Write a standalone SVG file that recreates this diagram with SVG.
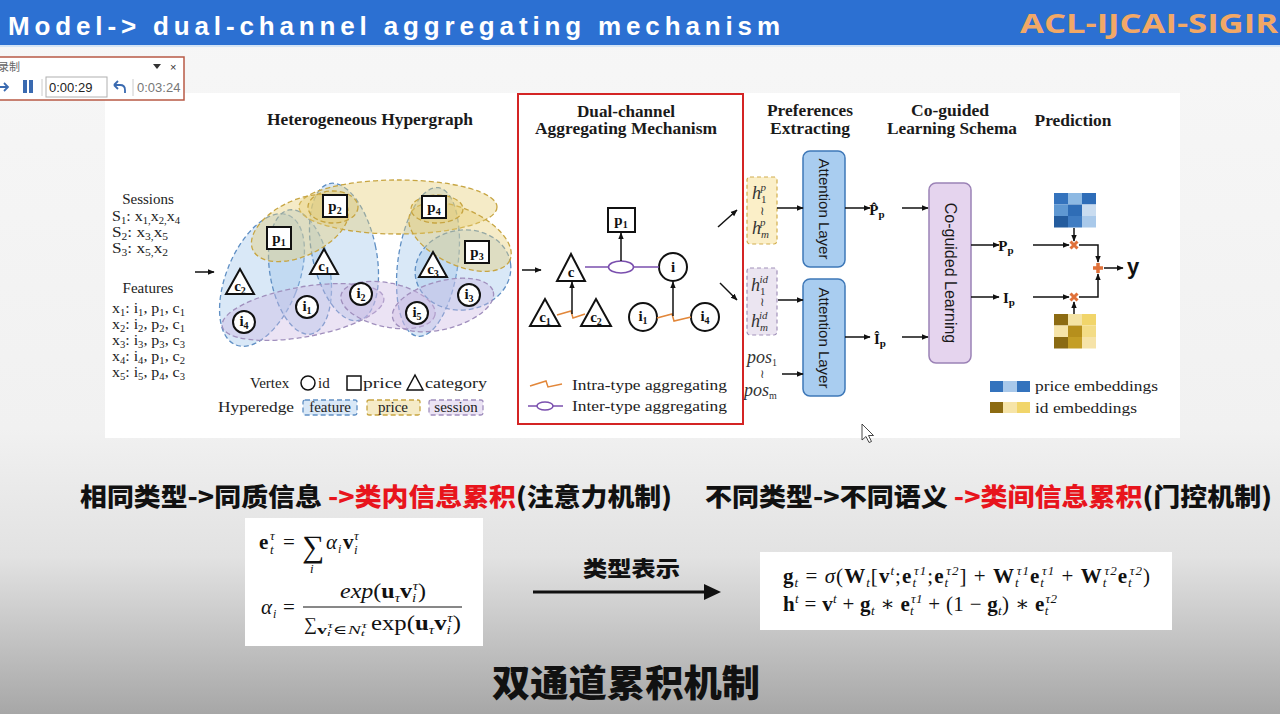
<svg xmlns="http://www.w3.org/2000/svg" width="1280" height="714" viewBox="0 0 1280 714">
<defs>
<linearGradient id="bg" x1="0" y1="0" x2="0" y2="714" gradientUnits="userSpaceOnUse">
<stop offset="0" stop-color="#f7f7f7"/>
<stop offset="0.6" stop-color="#f1f1f1"/>
<stop offset="0.78" stop-color="#e2e2e2"/>
<stop offset="1" stop-color="#a7a7a7"/>
</linearGradient>
<marker id="ah" viewBox="0 0 10 10" refX="9" refY="5" markerWidth="7" markerHeight="7" orient="auto" markerUnits="userSpaceOnUse"><path d="M0,1 L10,5 L0,9 z" fill="#111"/></marker>
<style>
.sf{font-family:"Liberation Serif","DejaVu Serif",serif}
.ss{font-family:"Liberation Sans","DejaVu Sans",sans-serif}
.cjk{font-family:"Noto Sans CJK SC",sans-serif;font-weight:900}
.ttl{font-family:"Liberation Serif",serif;font-weight:bold;font-size:16px;fill:#1a1a1a;text-anchor:middle}
.hb{fill:rgba(160,198,236,0.4);stroke:#5f8fc4;stroke-width:1.3;stroke-dasharray:5 3}
.hy{fill:rgba(230,205,115,0.4);stroke:#c7a542;stroke-width:1.3;stroke-dasharray:5 3}
.hp{fill:rgba(205,185,228,0.4);stroke:#a08fbd;stroke-width:1.3;stroke-dasharray:5 3}
.nd{fill:#fff;stroke:#111;stroke-width:2}
.lb{font-family:"Liberation Serif",serif;font-weight:bold;font-size:15px;fill:#111;text-anchor:middle}
.sb{font-size:10px}
.tx{font-family:"Liberation Serif",serif;font-size:15px;fill:#222}
.ar{stroke:#111;stroke-width:1.5;fill:none;marker-end:url(#ah)}
.hl{font-family:"Liberation Serif",serif;font-style:italic;font-size:18px;fill:#333}
.wr{font-family:"DejaVu Serif",serif;font-size:12px;fill:#333;text-anchor:middle}
</style>
</defs>

<!-- background -->
<rect x="0" y="0" width="1280" height="714" fill="url(#bg)"/>
<rect x="105" y="93" width="1075" height="345" fill="#ffffff"/>

<!-- header -->
<g id="header">
<rect x="0" y="0" width="1280" height="45" fill="#2c70d2"/>
<rect x="0" y="45" width="1280" height="2" fill="#d5e5f5"/>
<text x="8" y="35" class="ss" font-size="26" font-weight="bold" fill="#ffffff" textLength="772" lengthAdjust="spacing">Model-&gt; dual-channel aggregating mechanism</text>
<text x="1020" y="33" font-family="Open Sans, Liberation Sans, sans-serif" font-size="26" font-weight="bold" fill="#f2a866" textLength="258" lengthAdjust="spacingAndGlyphs">ACL-IJCAI-SIGIR</text>
</g>

<!-- Heterogeneous hypergraph -->
<g id="hypergraph">
<text class="ttl" x="370" y="125" textLength="206" lengthAdjust="spacingAndGlyphs">Heterogeneous Hypergraph</text>
<text class="tx" x="148" y="204" font-size="17" text-anchor="middle">Sessions</text>
<text class="tx" x="112" y="221" textLength="68" lengthAdjust="spacingAndGlyphs">S<tspan class="sb" dy="3">1</tspan><tspan dy="-3">: x</tspan><tspan class="sb" dy="3">1,</tspan><tspan dy="-3">x</tspan><tspan class="sb" dy="3">2,</tspan><tspan dy="-3">x</tspan><tspan class="sb" dy="3">4</tspan></text>
<text class="tx" x="112" y="237" textLength="56" lengthAdjust="spacingAndGlyphs">S<tspan class="sb" dy="3">2</tspan><tspan dy="-3">: x</tspan><tspan class="sb" dy="3">3,</tspan><tspan dy="-3">x</tspan><tspan class="sb" dy="3">5</tspan></text>
<text class="tx" x="112" y="253" textLength="56" lengthAdjust="spacingAndGlyphs">S<tspan class="sb" dy="3">3</tspan><tspan dy="-3">: x</tspan><tspan class="sb" dy="3">5,</tspan><tspan dy="-3">x</tspan><tspan class="sb" dy="3">2</tspan></text>
<text class="tx" x="148" y="293" font-size="17" text-anchor="middle">Features</text>
<text class="tx" x="112" y="313" textLength="73" lengthAdjust="spacingAndGlyphs">x<tspan class="sb" dy="3">1</tspan><tspan dy="-3">: i</tspan><tspan class="sb" dy="3">1</tspan><tspan dy="-3">, p</tspan><tspan class="sb" dy="3">1</tspan><tspan dy="-3">, c</tspan><tspan class="sb" dy="3">1</tspan></text>
<text class="tx" x="112" y="329" textLength="73" lengthAdjust="spacingAndGlyphs">x<tspan class="sb" dy="3">2</tspan><tspan dy="-3">: i</tspan><tspan class="sb" dy="3">2</tspan><tspan dy="-3">, p</tspan><tspan class="sb" dy="3">2</tspan><tspan dy="-3">, c</tspan><tspan class="sb" dy="3">1</tspan></text>
<text class="tx" x="112" y="345" textLength="73" lengthAdjust="spacingAndGlyphs">x<tspan class="sb" dy="3">3</tspan><tspan dy="-3">: i</tspan><tspan class="sb" dy="3">3</tspan><tspan dy="-3">, p</tspan><tspan class="sb" dy="3">3</tspan><tspan dy="-3">, c</tspan><tspan class="sb" dy="3">3</tspan></text>
<text class="tx" x="112" y="361" textLength="73" lengthAdjust="spacingAndGlyphs">x<tspan class="sb" dy="3">4</tspan><tspan dy="-3">: i</tspan><tspan class="sb" dy="3">4</tspan><tspan dy="-3">, p</tspan><tspan class="sb" dy="3">1</tspan><tspan dy="-3">, c</tspan><tspan class="sb" dy="3">2</tspan></text>
<text class="tx" x="112" y="377" textLength="73" lengthAdjust="spacingAndGlyphs">x<tspan class="sb" dy="3">5</tspan><tspan dy="-3">: i</tspan><tspan class="sb" dy="3">5</tspan><tspan dy="-3">, p</tspan><tspan class="sb" dy="3">4</tspan><tspan dy="-3">, c</tspan><tspan class="sb" dy="3">3</tspan></text>

<!-- hyperedges -->
<ellipse class="hb" cx="262" cy="280" rx="36" ry="70" transform="rotate(22 262 280)"/>
<ellipse class="hb" cx="300" cy="272" rx="30" ry="63" transform="rotate(-10 300 272)"/>
<ellipse class="hb" cx="344" cy="252" rx="32" ry="70" transform="rotate(-12 344 252)"/>
<ellipse class="hb" cx="428" cy="262" rx="30" ry="75" transform="rotate(8 428 262)"/>
<ellipse class="hb" cx="463" cy="270" rx="48" ry="40" transform="rotate(-8 463 270)"/>
<ellipse class="hy" cx="398" cy="207" rx="99" ry="27"/>
<ellipse class="hy" cx="300" cy="228" rx="52" ry="28" transform="rotate(-25 300 228)"/>
<ellipse class="hy" cx="460" cy="237" rx="55" ry="28" transform="rotate(25 460 237)"/>
<ellipse class="hy" cx="333" cy="207" rx="25" ry="16"/>
<ellipse class="hy" cx="437" cy="209" rx="26" ry="14"/>
<ellipse class="hp" cx="303" cy="312" rx="82" ry="25" transform="rotate(-10 303 312)"/>
<ellipse class="hp" cx="388" cy="305" rx="48" ry="22" transform="rotate(12 388 305)"/>
<ellipse class="hp" cx="443" cy="305" rx="52" ry="24" transform="rotate(-15 443 305)"/>

<!-- vertices -->
<rect class="nd" x="323" y="195" width="24" height="22"/><text class="lb" x="335" y="211">p<tspan class="sb" dy="3">2</tspan></text>
<rect class="nd" x="422" y="196" width="24" height="22"/><text class="lb" x="434" y="212">p<tspan class="sb" dy="3">4</tspan></text>
<rect class="nd" x="267" y="227" width="24" height="22"/><text class="lb" x="279" y="243">p<tspan class="sb" dy="3">1</tspan></text>
<rect class="nd" x="465" y="241" width="24" height="22"/><text class="lb" x="477" y="257">p<tspan class="sb" dy="3">3</tspan></text>
<polygon class="nd" points="324,249 310,274 338,274"/><text class="lb" x="324" y="271">c<tspan class="sb" dy="3">1</tspan></text>
<polygon class="nd" points="433,252 419,277 447,277"/><text class="lb" x="433" y="274">c<tspan class="sb" dy="3">3</tspan></text>
<polygon class="nd" points="240,269 226,294 254,294"/><text class="lb" x="240" y="291">c<tspan class="sb" dy="3">2</tspan></text>
<circle class="nd" cx="361" cy="294" r="11"/><text class="lb" x="361" y="298">i<tspan class="sb" dy="3">2</tspan></text>
<circle class="nd" cx="307" cy="307" r="11"/><text class="lb" x="307" y="311">i<tspan class="sb" dy="3">1</tspan></text>
<circle class="nd" cx="469" cy="295" r="11"/><text class="lb" x="469" y="299">i<tspan class="sb" dy="3">3</tspan></text>
<circle class="nd" cx="417" cy="313" r="11"/><text class="lb" x="417" y="317">i<tspan class="sb" dy="3">5</tspan></text>
<circle class="nd" cx="244" cy="322" r="11"/><text class="lb" x="244" y="326">i<tspan class="sb" dy="3">4</tspan></text>

<!-- legend -->
<text class="tx" x="250" y="388" font-size="16">Vertex</text>
<circle cx="308" cy="383" r="7" fill="none" stroke="#111" stroke-width="1.5"/>
<text class="tx" x="318" y="388" font-size="16">id</text>
<rect x="347" y="376" width="14" height="14" fill="none" stroke="#111" stroke-width="1.5"/>
<text class="tx" x="363" y="388" font-size="16" textLength="39" lengthAdjust="spacingAndGlyphs">price</text>
<polygon points="415,375 407,390 423,390" fill="none" stroke="#111" stroke-width="1.5"/>
<text class="tx" x="425" y="388" font-size="16" textLength="62" lengthAdjust="spacingAndGlyphs">category</text>
<text class="tx" x="218" y="412" font-size="16" textLength="76" lengthAdjust="spacingAndGlyphs">Hyperedge</text>
<rect class="hb" x="303" y="400" width="54" height="15" rx="2" stroke-width="1"/>
<text class="tx" x="330" y="412" font-size="14" text-anchor="middle">feature</text>
<rect class="hy" x="367" y="400" width="53" height="15" rx="2" stroke-width="1"/>
<text class="tx" x="393" y="412" font-size="14" text-anchor="middle">price</text>
<rect class="hp" x="429" y="400" width="54" height="15" rx="2" stroke-width="1"/>
<text class="tx" x="456" y="412" font-size="14" text-anchor="middle">session</text>
</g>

<!-- Dual-channel aggregating mechanism -->
<g id="dual-channel">
<rect x="518" y="94" width="225" height="330" fill="none" stroke="#d42424" stroke-width="2"/>
<text class="ttl" x="626" y="117" textLength="98" lengthAdjust="spacingAndGlyphs">Dual-channel</text>
<text class="ttl" x="626" y="134" textLength="182" lengthAdjust="spacingAndGlyphs">Aggregating Mechanism</text>
<rect class="nd" x="608" y="208" width="27" height="24"/><text class="lb" x="621" y="225">p<tspan class="sb" dy="3">1</tspan></text>
<polygon class="nd" points="571,254 557,281 585,281"/><text class="lb" x="571" y="277">c</text>
<circle class="nd" cx="673" cy="267" r="14"/><text class="lb" x="673" y="272">i</text>
<polygon class="nd" points="545,299 530,326 560,326"/><text class="lb" x="545" y="322">c<tspan class="sb" dy="3">1</tspan></text>
<polygon class="nd" points="596,299 581,326 611,326"/><text class="lb" x="596" y="322">c<tspan class="sb" dy="3">2</tspan></text>
<circle class="nd" cx="643" cy="317" r="14"/><text class="lb" x="643" y="321">i<tspan class="sb" dy="3">1</tspan></text>
<circle class="nd" cx="705" cy="317" r="14"/><text class="lb" x="705" y="321">i<tspan class="sb" dy="3">4</tspan></text>
<text class="tx" x="572" y="390" font-size="16" textLength="155" lengthAdjust="spacingAndGlyphs">Intra-type aggregating</text>
<text class="tx" x="572" y="411" font-size="16" textLength="155" lengthAdjust="spacingAndGlyphs">Inter-type aggregating</text>
</g>

<!-- Preferences extracting -->
<g id="pref-inputs">
<text class="ttl" x="810" y="116" textLength="86" lengthAdjust="spacingAndGlyphs">Preferences</text>
<text class="ttl" x="810" y="134" textLength="80" lengthAdjust="spacingAndGlyphs">Extracting</text>
<rect x="747" y="177" width="30" height="67" rx="3" fill="#fbefc8" stroke="#d2ae4e" stroke-width="1.2" stroke-dasharray="4 3"/>
<text class="hl" x="752" y="199">h<tspan font-size="11" font-style="normal" dy="4">1</tspan><tspan font-size="11" dx="-6" dy="-12">p</tspan></text>
<text class="wr" x="762" y="215">≀</text>
<text class="hl" x="752" y="234">h<tspan font-size="11" dy="4">m</tspan><tspan font-size="11" dx="-9" dy="-12">p</tspan></text>
<rect x="747" y="268" width="30" height="67" rx="3" fill="#ebe5f1" stroke="#a292ba" stroke-width="1.2" stroke-dasharray="4 3"/>
<text class="hl" x="751" y="291">h<tspan font-size="11" font-style="normal" dy="4">1</tspan><tspan font-size="11" dx="-6" dy="-12">id</tspan></text>
<text class="wr" x="762" y="306">≀</text>
<text class="hl" x="751" y="327">h<tspan font-size="11" dy="4">m</tspan><tspan font-size="11" dx="-9" dy="-12">id</tspan></text>
<text class="hl" x="747" y="363" font-size="16">pos<tspan font-size="10" font-style="normal" dy="3">1</tspan></text>
<text class="wr" x="762" y="378">≀</text>
<text class="hl" x="744" y="396" font-size="16">pos<tspan font-size="10" font-style="normal" dy="3">m</tspan></text>
</g>
<g id="attention-1">
<rect x="803" y="151" width="42" height="116" rx="7" fill="#a9cdf0" stroke="#3e78b8" stroke-width="1.5"/>
<text class="ss" x="824" y="209" font-size="15" fill="#1a1a1a" text-anchor="middle" dominant-baseline="central" transform="rotate(90 824 209)">Attention Layer</text>
</g>
<g id="attention-2">
<rect x="803" y="279" width="42" height="117" rx="7" fill="#a9cdf0" stroke="#3e78b8" stroke-width="1.5"/>
<text class="ss" x="824" y="338" font-size="15" fill="#1a1a1a" text-anchor="middle" dominant-baseline="central" transform="rotate(90 824 338)">Attention Layer</text>
</g>
<g id="pref-outputs">
<text class="lb" x="877" y="215" text-anchor="start" font-size="17">P&#x302;<tspan font-size="11" dy="3">p</tspan></text>
<text class="lb" x="880" y="344" text-anchor="start" font-size="17">I&#x302;<tspan font-size="11" dy="3">p</tspan></text>
</g>

<!-- Co-guided learning -->
<g id="co-guided">
<text class="ttl" x="950" y="116" textLength="78" lengthAdjust="spacingAndGlyphs">Co-guided</text>
<text class="ttl" x="952" y="134" textLength="130" lengthAdjust="spacingAndGlyphs">Learning Schema</text>
<rect x="929" y="183" width="42" height="180" rx="7" fill="#e5d4ee" stroke="#9b82b6" stroke-width="1.5"/>
<text class="ss" x="950" y="273" font-size="16" fill="#1a1a1a" text-anchor="middle" dominant-baseline="central" transform="rotate(90 950 273)">Co-guided Learning</text>
<text class="lb" x="1006" y="251" text-anchor="start" font-size="17">P<tspan font-size="11" dy="3">p</tspan></text>
<text class="lb" x="1009" y="303" text-anchor="start" font-size="17">I<tspan font-size="11" dy="3">p</tspan></text>
</g>

<!-- Prediction -->
<g id="prediction">
<text class="ttl" x="1073" y="126" textLength="77" lengthAdjust="spacingAndGlyphs">Prediction</text>
<rect x="1054" y="193" width="14" height="11.5" fill="#3473bd"/><rect x="1068" y="193" width="14" height="11.5" fill="#8db9e3"/><rect x="1082" y="193" width="14" height="11.5" fill="#2e6db8"/>
<rect x="1054" y="204.5" width="14" height="11.5" fill="#5f98d2"/><rect x="1068" y="204.5" width="14" height="11.5" fill="#2f6db6"/><rect x="1082" y="204.5" width="14" height="11.5" fill="#c9dcf0"/>
<rect x="1054" y="216" width="14" height="11.5" fill="#245c9e"/><rect x="1068" y="216" width="14" height="11.5" fill="#3f7cc2"/><rect x="1082" y="216" width="14" height="11.5" fill="#a9c9ea"/>
<rect x="1054" y="314" width="14" height="11.5" fill="#8c6b12"/><rect x="1068" y="314" width="14" height="11.5" fill="#f4e3a4"/><rect x="1082" y="314" width="14" height="11.5" fill="#f1d56a"/>
<rect x="1054" y="325.5" width="14" height="11.5" fill="#f6e4a8"/><rect x="1068" y="325.5" width="14" height="11.5" fill="#b68f1c"/><rect x="1082" y="325.5" width="14" height="11.5" fill="#f3dc86"/>
<rect x="1054" y="337" width="14" height="11.5" fill="#8a6a12"/><rect x="1068" y="337" width="14" height="11.5" fill="#c49e26"/><rect x="1082" y="337" width="14" height="11.5" fill="#f6e3a8"/>
<path d="M1070.5,241.5 L1077.5,248.5 M1077.5,241.5 L1070.5,248.5" stroke="#e0713a" stroke-width="3"/>
<path d="M1070.5,293.5 L1077.5,300.5 M1077.5,293.5 L1070.5,300.5" stroke="#e0713a" stroke-width="3"/>
<path d="M1093,268 H1103 M1098,263 V273" stroke="#e0713a" stroke-width="3.5"/>
<text class="ss" x="1127" y="274" font-size="22" font-weight="bold" fill="#111">y</text>
<rect x="990" y="381" width="13" height="11" fill="#3473bd"/><rect x="1003" y="381" width="14" height="11" fill="#a8c8ea"/><rect x="1017" y="381" width="13" height="11" fill="#3473bd"/>
<text class="tx" x="1035" y="391" font-size="16" textLength="123" lengthAdjust="spacingAndGlyphs">price embeddings</text>
<rect x="990" y="402" width="13" height="11" fill="#8c6b12"/><rect x="1003" y="402" width="14" height="11" fill="#f6e4a8"/><rect x="1017" y="402" width="13" height="11" fill="#f1d56a"/>
<text class="tx" x="1035" y="413" font-size="16" textLength="102" lengthAdjust="spacingAndGlyphs">id embeddings</text>
</g>

<!-- connectors -->
<g id="connectors">
<line class="ar" x1="195" y1="272" x2="214" y2="272"/>
<line x1="585" y1="267" x2="659" y2="267" stroke="#7a4fae" stroke-width="1.5"/>
<ellipse cx="621" cy="267" rx="12.5" ry="6" fill="#fff" stroke="#7a4fae" stroke-width="1.5"/>
<line class="ar" x1="621" y1="261" x2="621" y2="233"/>
<line class="ar" x1="522" y1="270" x2="541" y2="270"/>
<path d="M557,315 L571,311 L573,318 L585,314" fill="none" stroke="#e2873a" stroke-width="1.5"/>
<line class="ar" x1="572" y1="314" x2="572" y2="282"/>
<path d="M657,318 L672,314 L674,321 L691,317" fill="none" stroke="#e2873a" stroke-width="1.5"/>
<line class="ar" x1="673" y1="316" x2="673" y2="282"/>
<path d="M530,386 L546,381 L548,387 L562,384" fill="none" stroke="#e2873a" stroke-width="1.5"/>
<line x1="528" y1="406" x2="563" y2="406" stroke="#7a4fae" stroke-width="1.5"/>
<ellipse cx="545" cy="406" rx="8" ry="4" fill="#fff" stroke="#7a4fae" stroke-width="1.5"/>
<line class="ar" x1="718" y1="227" x2="737" y2="210"/>
<line class="ar" x1="720" y1="283" x2="737" y2="300"/>
<line class="ar" x1="777" y1="208" x2="803" y2="208"/>
<line class="ar" x1="778" y1="300" x2="803" y2="300"/>
<line class="ar" x1="782" y1="374" x2="803" y2="374"/>
<line class="ar" x1="845" y1="208" x2="870" y2="208"/>
<line class="ar" x1="845" y1="337" x2="870" y2="337"/>
<line class="ar" x1="902" y1="208" x2="928" y2="208"/>
<line class="ar" x1="902" y1="337" x2="928" y2="337"/>
<line class="ar" x1="971" y1="245" x2="999" y2="245"/>
<line class="ar" x1="971" y1="297" x2="999" y2="297"/>
<line class="ar" x1="1033" y1="245" x2="1069" y2="245"/>
<line class="ar" x1="1033" y1="297" x2="1069" y2="297"/>
<line class="ar" x1="1074" y1="228" x2="1074" y2="241"/>
<line class="ar" x1="1074" y1="314" x2="1074" y2="302"/>
<path class="ar" d="M1079,245 H1098 V262"/>
<path class="ar" d="M1079,297 H1098 V274"/>
<line class="ar" x1="1104" y1="268" x2="1123" y2="268"/>
</g>

<!-- cursor -->
<path d="M862,424 L862,440 L866,436.5 L869,442.5 L871.5,441.5 L868.5,435.5 L873.5,435.5 Z" fill="#fff" stroke="#333" stroke-width="0.9"/>

<!-- Chinese explanation lines -->
<g id="notes">
<text class="cjk" x="80" y="506" font-size="25" textLength="592" lengthAdjust="spacingAndGlyphs"><tspan fill="#111">相同类型-&gt;同质信息 </tspan><tspan fill="#e8141c">-&gt;类内信息累积</tspan><tspan fill="#111">(注意力机制)</tspan></text>
<text class="cjk" x="705" y="506" font-size="25" textLength="567" lengthAdjust="spacingAndGlyphs"><tspan fill="#111">不同类型-&gt;不同语义 </tspan><tspan fill="#e8141c">-&gt;类间信息累积</tspan><tspan fill="#111">(门控机制)</tspan></text>
</g>

<!-- left formula -->
<g id="formula-left">
<rect x="245" y="518" width="238" height="128" fill="#ffffff"/>
<text class="sf" x="259" y="549" font-size="21" font-weight="bold" fill="#111">e</text>
<text class="sf" x="270" y="540" font-size="13" font-style="italic" fill="#111">τ</text>
<text class="sf" x="270" y="554" font-size="13" font-style="italic" fill="#111">t</text>
<text class="sf" x="283" y="549" font-size="21" fill="#111">=</text>
<text class="sf" x="302" y="557" font-size="31" fill="#111">∑</text>
<text class="sf" x="310" y="573" font-size="13" font-style="italic" fill="#111">i</text>
<text class="sf" x="326" y="549" font-size="21" font-style="italic" fill="#111">α</text>
<text class="sf" x="338" y="553" font-size="12" font-style="italic" fill="#111">i</text>
<text class="sf" x="343" y="549" font-size="21" font-weight="bold" fill="#111">v</text>
<text class="sf" x="354" y="540" font-size="13" font-style="italic" fill="#111">τ</text>
<text class="sf" x="354" y="554" font-size="13" font-style="italic" fill="#111">i</text>
<text class="sf" x="261" y="614" font-size="21" font-style="italic" fill="#111">α</text>
<text class="sf" x="273" y="618" font-size="12" font-style="italic" fill="#111">i</text>
<text class="sf" x="283" y="614" font-size="21" fill="#111">=</text>
<line x1="303" y1="607" x2="462" y2="607" stroke="#111" stroke-width="1"/>
<text class="sf" x="340" y="598" font-size="21" fill="#111" textLength="86" lengthAdjust="spacingAndGlyphs"><tspan font-style="italic">exp</tspan>(<tspan font-weight="bold">u</tspan><tspan font-size="13" font-style="italic" dy="4">τ</tspan><tspan font-weight="bold" dy="-4">v</tspan><tspan font-size="13" font-style="italic" dy="4">i</tspan><tspan font-size="13" font-style="italic" dx="-3" dy="-12">τ</tspan><tspan dy="8">)</tspan></text>
<text class="sf" x="304" y="630" font-size="18" fill="#111">∑</text>
<text class="sf" x="317" y="634" font-size="12" fill="#111" textLength="50" lengthAdjust="spacingAndGlyphs"><tspan font-weight="bold">v</tspan><tspan font-size="9" font-style="italic" dy="2">i</tspan><tspan font-size="9" font-style="italic" dx="-2" dy="-8">τ</tspan><tspan dy="6">∈</tspan><tspan font-style="italic">N</tspan><tspan font-size="9" font-style="italic" dy="2">t</tspan><tspan font-size="9" font-style="italic" dx="-2" dy="-8">τ</tspan></text>
<text class="sf" x="371" y="630" font-size="21" fill="#111" textLength="90" lengthAdjust="spacingAndGlyphs">exp(<tspan font-weight="bold">u</tspan><tspan font-size="13" font-style="italic" dy="4">τ</tspan><tspan font-weight="bold" dy="-4">v</tspan><tspan font-size="13" font-style="italic" dy="4">i</tspan><tspan font-size="13" font-style="italic" dx="-3" dy="-12">τ</tspan><tspan dy="8">)</tspan></text>
</g>

<!-- type representation arrow -->
<g id="type-arrow">
<text class="cjk" x="583" y="576" font-size="21" fill="#111" textLength="97" lengthAdjust="spacingAndGlyphs" font-weight="700">类型表示</text>
<line x1="533" y1="592" x2="708" y2="592" stroke="#111" stroke-width="3"/>
<polygon points="704,584 721,592 704,600" fill="#111"/>
</g>

<!-- right formula -->
<g id="formula-right">
<rect x="760" y="552" width="412" height="78" fill="#ffffff"/>
<text class="sf" x="783" y="583" font-size="21" fill="#111" textLength="367" lengthAdjust="spacing"><tspan font-weight="bold">g</tspan><tspan font-size="13" font-style="italic" dy="4">t</tspan><tspan dy="-4"> = </tspan><tspan font-style="italic">σ</tspan>(<tspan font-weight="bold">W</tspan><tspan font-size="13" font-style="italic" dy="4">t</tspan><tspan dy="-4">[</tspan><tspan font-weight="bold">v</tspan><tspan font-size="13" font-style="italic" dy="-8">t</tspan><tspan dy="8">;</tspan><tspan font-weight="bold">e</tspan><tspan font-size="13" font-style="italic" dy="4">t</tspan><tspan font-size="13" font-style="italic" dx="-3" dy="-12">τ1</tspan><tspan dy="8">;</tspan><tspan font-weight="bold">e</tspan><tspan font-size="13" font-style="italic" dy="4">t</tspan><tspan font-size="13" font-style="italic" dx="-3" dy="-12">τ2</tspan><tspan dy="8">] + </tspan><tspan font-weight="bold">W</tspan><tspan font-size="13" font-style="italic" dy="4">t</tspan><tspan font-size="13" font-style="italic" dx="-3" dy="-12">τ1</tspan><tspan font-weight="bold" dy="8">e</tspan><tspan font-size="13" font-style="italic" dy="4">t</tspan><tspan font-size="13" font-style="italic" dx="-3" dy="-12">τ1</tspan><tspan dy="8"> + </tspan><tspan font-weight="bold">W</tspan><tspan font-size="13" font-style="italic" dy="4">t</tspan><tspan font-size="13" font-style="italic" dx="-3" dy="-12">τ2</tspan><tspan font-weight="bold" dy="8">e</tspan><tspan font-size="13" font-style="italic" dy="4">t</tspan><tspan font-size="13" font-style="italic" dx="-3" dy="-12">τ2</tspan><tspan dy="8">)</tspan></text>
<text class="sf" x="783" y="611" font-size="21" fill="#111" textLength="274" lengthAdjust="spacing"><tspan font-weight="bold">h</tspan><tspan font-size="13" font-style="italic" dy="-8">t</tspan><tspan dy="8"> = </tspan><tspan font-weight="bold">v</tspan><tspan font-size="13" font-style="italic" dy="-8">t</tspan><tspan dy="8"> + </tspan><tspan font-weight="bold">g</tspan><tspan font-size="13" font-style="italic" dy="4">t</tspan><tspan dy="-4"> ∗ </tspan><tspan font-weight="bold">e</tspan><tspan font-size="13" font-style="italic" dy="4">t</tspan><tspan font-size="13" font-style="italic" dx="-3" dy="-12">τ1</tspan><tspan dy="8"> + (1 − </tspan><tspan font-weight="bold">g</tspan><tspan font-size="13" font-style="italic" dy="4">t</tspan><tspan dy="-4">) ∗ </tspan><tspan font-weight="bold">e</tspan><tspan font-size="13" font-style="italic" dy="4">t</tspan><tspan font-size="13" font-style="italic" dx="-3" dy="-12">τ2</tspan></text>
</g>

<!-- bottom title -->
<text class="cjk" x="492" y="697" font-size="37" fill="#111" textLength="268" lengthAdjust="spacingAndGlyphs">双通道累积机制</text>

<!-- recorder widget -->
<g id="recorder">
<rect x="-1" y="57" width="185" height="43" fill="#ffffff" stroke="#b85a45" stroke-width="1.5"/>
<text x="-2" y="71" font-family="Noto Sans CJK SC, sans-serif" font-size="11" fill="#666">录制</text>
<path d="M153,64 L161,64 L157,69 z" fill="#333"/>
<text x="170" y="71" class="ss" font-size="11" fill="#333">×</text>
<path d="M0,87 H8 M4,83 L8,87 L4,91" fill="none" stroke="#3a6ab0" stroke-width="1.8"/>
<rect x="23" y="80" width="4" height="13" fill="#3a6ab0"/>
<rect x="29" y="80" width="4" height="13" fill="#3a6ab0"/>
<line x1="42" y1="79" x2="42" y2="96" stroke="#ccc"/>
<rect x="46" y="77" width="61" height="20" fill="#fff" stroke="#b0b0b0"/>
<text x="49" y="92" class="ss" font-size="13" fill="#222">0:00:29</text>
<path d="M114,85 L118,81 M114,85 L118,89 M114,85 H120 Q125,85 125,90 V93" fill="none" stroke="#3a6ab0" stroke-width="1.8"/>
<line x1="133" y1="79" x2="133" y2="96" stroke="#ccc"/>
<text x="137" y="92" class="ss" font-size="13" fill="#777">0:03:24</text>
</g>
</svg>
